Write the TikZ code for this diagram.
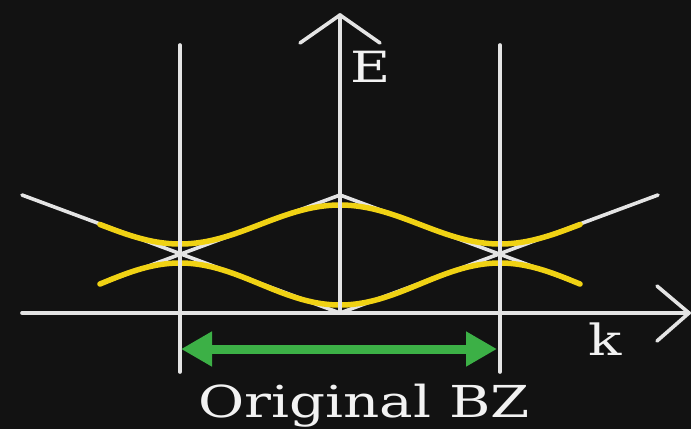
\documentclass[tikz,border=0pt]{standalone}
\usepackage{fontspec}
\setmainfont{DejaVu Serif}
\usetikzlibrary{arrows.meta}
\definecolor{bg}{RGB}{18,18,18}
\definecolor{axis}{RGB}{228,228,228}
\definecolor{band}{RGB}{240,210,20}
\definecolor{bzgreen}{RGB}{60,176,70}
\definecolor{txt}{RGB}{242,242,242}
\tikzset{
  axisline/.style={draw=axis, line width=3.6pt, line cap=round, line join=round},
  freeline/.style={draw=axis, line width=3.6pt, line cap=round},
  bandline/.style={draw=band, line width=5.5pt, line cap=round},
  bzarrow/.style={draw=bzgreen, line width=9pt, {Triangle[length=31pt,width=33pt]}-{Triangle[length=31pt,width=33pt]}, fill=bzgreen},
  lbl/.style={text=txt, inner sep=0pt, font=\fontsize{43}{50}\selectfont}
}
\begin{document}
\begin{tikzpicture}[x=1pt,y=-1pt]
\fill[bg] (0,0) rectangle (691,429);
\useasboundingbox (0,0) rectangle (691,429);
% coordinates
\coordinate (kstart) at (22,313);
\coordinate (ktip) at (689,313);
\coordinate (kup) at (657,286);
\coordinate (kdn) at (657,341);
\coordinate (ebot) at (340,313);
\coordinate (etip) at (340,15);
\coordinate (el) at (300,43);
\coordinate (er) at (380,43);
\coordinate (bzlt) at (180,45);
\coordinate (bzlb) at (180,372);
\coordinate (bzrt) at (500,45);
\coordinate (bzrb) at (500,372);
\coordinate (fa1) at (22,195);
\coordinate (fa2) at (340,313);
\coordinate (fa3) at (658,195);
\coordinate (fb1) at (100,284);
\coordinate (fb2) at (340,195);
\coordinate (fb3) at (580,284);
\coordinate (gl) at (181,349);
\coordinate (gr) at (497,349);
% free electron lines
\draw[freeline] (fa1) -- (fa2) -- (fa3);
\draw[freeline] (fb1) -- (fb2) -- (fb3);
% bands
\draw[bandline] plot[domain=100:580, samples=121, smooth] (\x, {224.5-19.5*cos(1.125*(\x-340))});
\draw[bandline] plot[domain=100:580, samples=121, smooth] (\x, {284+21*cos(1.125*(\x-340))});
% axes
\draw[axisline] (kstart) -- (ktip);
\draw[axisline] (kup) -- (ktip) -- (kdn);
\draw[axisline] (ebot) -- (etip);
\draw[axisline] (el) -- (etip) -- (er);
\draw[axisline] (bzlt) -- (bzlb);
\draw[axisline] (bzrt) -- (bzrb);
% BZ arrow
\draw[bzarrow] (gl) -- (gr);
% labels
\node[lbl, anchor=base west] (E) at (350,82) {\scalebox{1.28}[1]{E}};
\node[lbl, anchor=base west] (k) at (588,355) {\scalebox{1.28}[1]{k}};
\node[lbl, anchor=base, font=\fontsize{44}{50}\selectfont] (bz) at (364,417) {\scalebox{1.28}[1]{Original BZ}};
\end{tikzpicture}
\end{document}
